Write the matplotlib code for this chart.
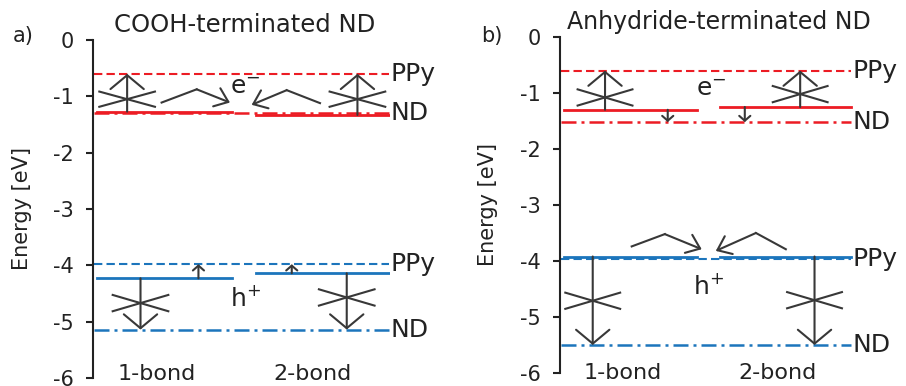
import matplotlib
matplotlib.use('Agg')
import matplotlib.pyplot as plt

plt.rcParams['font.family'] = ['DejaVu Sans']
plt.rcParams['mathtext.default'] = 'regular'

RED = '#ec1c24'
BLUE = '#1c75bc'
INK = '#383838'
TXT = '#222222'

# energy levels [eV]
# panel a: COOH-terminated ND
cooh_lumo_ppy = -0.60
cooh_lumo_bond = [-1.27, -1.33]   # 1-bond, 2-bond
cooh_lumo_nd = -1.29
cooh_homo_ppy = -3.98
cooh_homo_bond = [-4.23, -4.14]
cooh_homo_nd = -5.14

# panel b: anhydride-terminated ND
anh_lumo_ppy = -0.60
anh_lumo_bond = [-1.30, -1.25]
anh_lumo_nd = -1.52
anh_homo_ppy = -3.97
anh_homo_bond = [-3.92, -3.92]
anh_homo_nd = -5.50

bond_labels = ['1-bond', '2-bond']
yticks = [0, -1, -2, -3, -4, -5, -6]
ytick_labels = ['0', '-1', '-2', '-3', '-4', '-5', '-6']

# horizontal extents (axes fraction)
full_span = (0.005, 0.995)
bond_spans = [(0.015, 0.467), (0.548, 0.995)]


def big_arrow(ax, x, y0, y1):
    ax.annotate('', xy=(x, y1), xytext=(x, y0),
                arrowprops=dict(arrowstyle='->,head_length=10,head_width=12', mutation_scale=1,
                                color=INK, lw=1.5, shrinkA=0, shrinkB=0))


def small_arrow(ax, x, y0, y1):
    ax.annotate('', xy=(x, y1), xytext=(x, y0),
                arrowprops=dict(arrowstyle='->,head_length=3.5,head_width=4', mutation_scale=1,
                                color=INK, lw=1.5, shrinkA=0, shrinkB=0))


def cross(ax, x, y, hw=0.097, hh=0.15):
    ax.plot([x - hw, x + hw], [y - hh, y + hh], color=INK, lw=1.5, solid_capstyle='butt')
    ax.plot([x - hw, x + hw], [y + hh, y - hh], color=INK, lw=1.5, solid_capstyle='butt')


def bent_arrow(ax, pts):
    (x0, y0), (x1, y1), (x2, y2) = pts
    ax.plot([x0, x1], [y0, y1], color=INK, lw=1.5)
    ax.annotate('', xy=(x2, y2), xytext=(x1, y1),
                arrowprops=dict(arrowstyle='->,head_length=9,head_width=7', mutation_scale=1,
                                color=INK, lw=1.5, shrinkA=0, shrinkB=0))


def levels(ax, ppy, bonds, nd, color):
    ax.plot(full_span, [nd, nd], color=color, lw=1.8, linestyle=(0, (6, 2, 1.2, 2)))
    ax.plot(full_span, [ppy, ppy], color=color, lw=1.5, linestyle=(0, (4, 2)))
    for (x0, x1), e in zip(bond_spans, bonds):
        ax.plot([x0, x1], [e, e], color=color, lw=2.0)
    ax.text(1.0, ppy, 'PPy', fontsize=18, color=TXT, ha='left', va='center')
    ax.text(1.0, nd, 'ND', fontsize=18, color=TXT, ha='left', va='center')


def setup(ax):
    ax.set_xlim(0, 1)
    ax.set_ylim(-6, 0)
    for s in ['top', 'right', 'bottom']:
        ax.spines[s].set_visible(False)
    ax.spines['left'].set_linewidth(1.5)
    ax.spines['left'].set_color(TXT)
    ax.set_xticks([])
    ax.set_yticks(yticks)
    ax.set_yticklabels(ytick_labels)
    ax.tick_params(axis='y', direction='out', length=5, width=1.5, pad=9,
                   labelsize=15, colors=TXT)


fig = plt.figure(figsize=(9.06, 3.86), dpi=100)
ax1 = fig.add_axes([0.1026, 0.0207, 0.328, 0.8756])
ax2 = fig.add_axes([0.618, 0.0337, 0.3234, 0.8705])

# ---- panel a ----
setup(ax1)
levels(ax1, cooh_lumo_ppy, cooh_lumo_bond, cooh_lumo_nd, RED)
levels(ax1, cooh_homo_ppy, cooh_homo_bond, cooh_homo_nd, BLUE)

for x, e, cy in zip([0.115, 0.89], cooh_lumo_bond, [-1.05, -1.05]):
    big_arrow(ax1, x, e, cooh_lumo_ppy)
    cross(ax1, x, cy, hh=0.14)
bent_arrow(ax1, [(0.231, -1.11), (0.349, -0.875), (0.461, -1.11)])
bent_arrow(ax1, [(0.764, -1.12), (0.652, -0.89), (0.534, -1.15)])

for x, e, cy in zip([0.16, 0.854], cooh_homo_bond, [-4.67, -4.57]):
    big_arrow(ax1, x, e, cooh_homo_nd)
    cross(ax1, x, cy)
for x, e in zip([0.355, 0.669], cooh_homo_bond):
    small_arrow(ax1, x, e, cooh_homo_ppy)

ax1.text(0.512, -0.84, 'e$^{-}$', fontsize=18, color=TXT, ha='center', va='center')
ax1.text(0.512, -4.58, 'h$^{+}$', fontsize=18, color=TXT, ha='center', va='center')
for x, lab in zip([0.215, 0.74], bond_labels):
    ax1.text(x, -5.76, lab, fontsize=16, color=TXT, ha='center', va='top')

# ---- panel b ----
setup(ax2)
levels(ax2, anh_lumo_ppy, anh_lumo_bond, anh_lumo_nd, RED)
levels(ax2, anh_homo_ppy, anh_homo_bond, anh_homo_nd, BLUE)

for x, e, cy in zip([0.154, 0.82], anh_lumo_bond, [-1.08, -1.02]):
    big_arrow(ax2, x, e, anh_lumo_ppy)
    cross(ax2, x, cy)
for x, e in zip([0.368, 0.631], anh_lumo_bond):
    small_arrow(ax2, x, e, anh_lumo_nd)

bent_arrow(ax2, [(0.245, -3.74), (0.358, -3.52), (0.484, -3.79)])
bent_arrow(ax2, [(0.771, -3.79), (0.669, -3.50), (0.532, -3.82)])
for x, e, cy in zip([0.112, 0.869], anh_homo_bond, [-4.71, -4.70]):
    big_arrow(ax2, x, e, anh_homo_nd)
    cross(ax2, x, cy)

ax2.text(0.515, -0.93, 'e$^{-}$', fontsize=18, color=TXT, ha='center', va='center')
ax2.text(0.508, -4.46, 'h$^{+}$', fontsize=18, color=TXT, ha='center', va='center')
for x, lab in zip([0.215, 0.744], bond_labels):
    ax2.text(x, -5.83, lab, fontsize=16, color=TXT, ha='center', va='top')

# titles, panel letters, axis labels
fig.text(0.270, 0.935, 'COOH-terminated ND', fontsize=17.5, color=TXT, ha='center', va='center')
fig.text(0.794, 0.943, 'Anhydride-terminated ND', fontsize=17, color=TXT, ha='center', va='center')
fig.text(0.026, 0.907, 'a)', fontsize=15, color=TXT, ha='center', va='center')
fig.text(0.543, 0.907, 'b)', fontsize=15, color=TXT, ha='center', va='center')
fig.text(0.024, 0.459, 'Energy [eV]', fontsize=15, color=TXT, ha='center', va='center', rotation=90)
fig.text(0.539, 0.47, 'Energy [eV]', fontsize=15, color=TXT, ha='center', va='center', rotation=90)

fig.savefig('out.png', dpi=100)
